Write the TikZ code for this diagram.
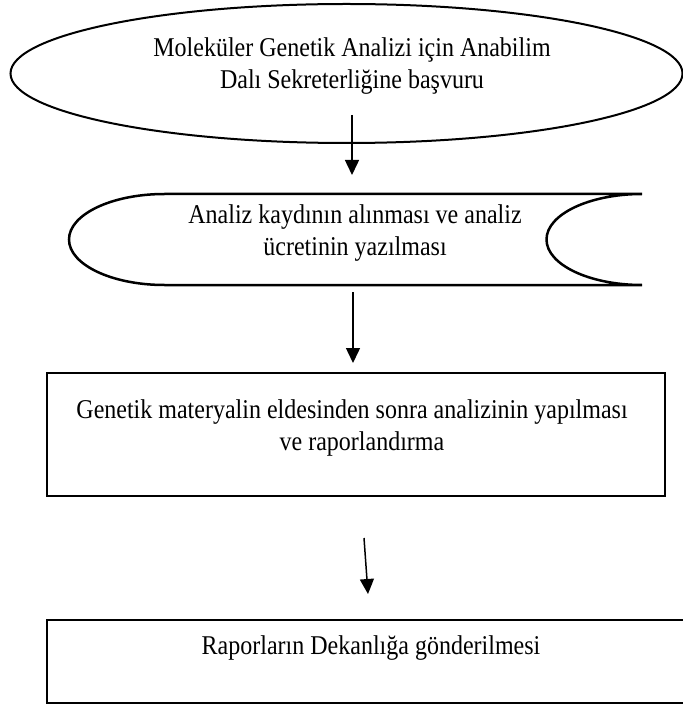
\documentclass[tikz,border=0pt]{standalone}
\usepackage{fontspec}
\usepackage{graphicx}
\setmainfont{Liberation Serif}
\usetikzlibrary{shapes.geometric,arrows.meta}
\newcommand\vstr[1]{\scalebox{1}[1.13]{#1}}
\begin{document}
\begin{tikzpicture}[x=1pt,y=-1pt,
  txt/.style={font=\fontsize{24}{32}\selectfont, align=center, inner sep=0pt},
  frame/.style={draw, line width=2pt, inner sep=0pt},
  conn/.style={line width=1.5pt, -{Triangle[length=15pt,width=14pt]}}]
\useasboundingbox (0,0) rectangle (682,708);
% step 1: ellipse
\node[frame, ellipse, minimum width=672pt, minimum height=139pt] (e1) at (346.5,73.5) {};
\node[txt] (t1) at (352,66) {\vstr{Moleküler Genetik Analizi için Anabilim}\\\vstr{Dalı Sekreterliğine başvuru}};
% step 2: stored data shape
\draw[line width=2.5pt] (164.5,194) -- (642,194)
  arc[start angle=90, end angle=270, x radius=95.5pt, y radius=45.5pt]
  -- (164.5,285)
  arc[start angle=270, end angle=90, x radius=95.5pt, y radius=45.5pt] -- cycle;
\node[txt] (t2) at (355,233) {\vstr{Analiz kaydının alınması ve analiz}\\\vstr{ücretinin yazılması}};
% step 3: box
\node[frame, rectangle, minimum width=618pt, minimum height=123pt] (b3) at (356,434.5) {};
\node[txt] (t3) at (352,428) {\vstr{Genetik materyalin eldesinden sonra analizinin yapılması}\\\hspace*{20pt}\vstr{ve raporlandırma}};
% step 4: box (runs past the right edge)
\node[frame, rectangle, minimum width=673pt, minimum height=83pt] (b4) at (383.5,661.5) {};
\node[txt] (t4) at (371,648) {\vstr{Raporların Dekanlığa gönderilmesi}};
% connectors
\coordinate (a1s) at (352,115);
\coordinate (a1e) at (352,175);
\coordinate (a2s) at (353,292);
\coordinate (a2e) at (353,363);
\coordinate (a3s) at (364,538);
\coordinate (a3e) at (368,594);
\draw[conn] (a1s) -- (a1e);
\draw[conn] (a2s) -- (a2e);
\draw[conn] (a3s) -- (a3e);
\end{tikzpicture}
\end{document}
